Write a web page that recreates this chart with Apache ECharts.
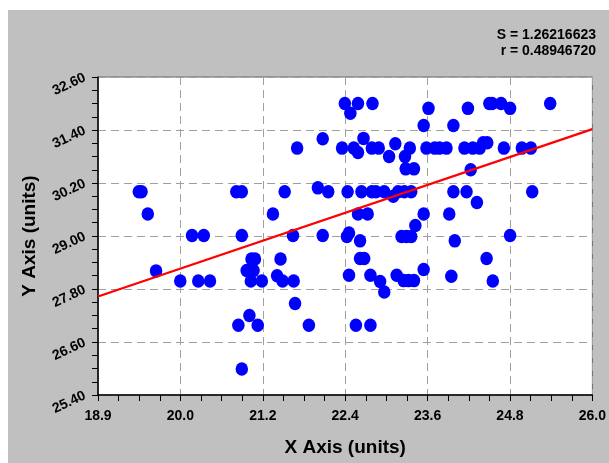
<!DOCTYPE html>
<html>
<head>
<meta charset="utf-8">
<script src="https://cdn.jsdelivr.net/npm/echarts@6/dist/echarts.min.js"></script>
<style>
  html, body { margin: 0; padding: 0; background: #fff; }
  #chart {
    width: 609px;
    height: 463px;
    background: linear-gradient(#c0c0c0, #c0c0c0) 8px 10px / 601px 453px no-repeat, #fff;
  }
</style>
</head>
<body>
<div id="chart"></div>
<script>
// data points
var xValues = [
  19.44, 19.48, 19.57, 19.69, 20.04, 20.21, 20.38, 20.30, 20.47, 20.85,
  20.93, 20.93, 21.38, 21.55, 21.73, 22.10, 22.03, 22.18, 22.10, 21.67,
  21.07, 21.12, 21.00, 21.10, 21.06, 21.22, 21.49, 21.44, 21.52, 21.68,
  21.70, 21.04, 20.88, 21.16, 21.90, 20.93,
  22.42, 22.61, 22.82, 22.50, 23.63, 24.20, 24.51, 24.55, 24.68, 24.81,
  25.39, 23.56, 23.99, 22.69,
  22.38, 22.55, 22.61, 22.81, 22.91, 23.06, 23.15, 23.29, 23.36, 23.30,
  23.42, 23.60, 23.72, 23.79, 23.89, 24.15, 24.27, 24.37, 24.42, 24.48,
  24.72, 24.98, 25.11, 24.24,
  22.46, 22.66, 22.81, 22.87, 22.99, 23.12, 23.19, 23.28, 23.38, 23.99,
  24.18, 24.33, 25.13,
  22.61, 22.75, 23.56, 23.93, 23.44,
  22.48, 22.45, 22.64, 23.24, 23.31, 23.38, 24.01, 24.81,
  22.64, 22.70, 24.47,
  22.48, 22.79, 22.93, 22.99, 23.17, 23.27, 23.34, 23.42, 23.56, 23.96,
  24.56,
  22.58, 22.79
];
var yValues = [
  30.00, 30.00, 29.50, 28.21, 27.98, 29.01, 29.01, 27.98, 27.98, 30.00,
  30.00, 29.01, 29.50, 30.00, 30.99, 31.20, 30.09, 30.00, 29.01, 29.01,
  28.48, 28.48, 28.22, 28.22, 27.98, 27.98, 28.48, 28.10, 27.98, 27.98,
  27.47, 27.20, 26.98, 26.98, 26.98, 25.99,
  32.00, 32.00, 32.00, 31.78, 31.89, 31.89, 32.00, 32.00, 32.00, 31.89,
  32.00, 31.50, 31.50, 31.21,
  30.99, 30.99, 30.89, 30.99, 30.99, 30.80, 31.09, 30.80, 30.99, 30.52,
  30.52, 30.99, 30.99, 30.99, 30.99, 30.99, 30.99, 30.99, 31.11, 31.11,
  30.99, 30.99, 30.99, 30.50,
  30.00, 30.00, 30.00, 30.00, 30.00, 29.90, 30.00, 30.00, 30.00, 30.00,
  30.00, 29.76, 30.00,
  29.50, 29.50, 29.50, 29.50, 29.24,
  29.07, 28.99, 28.89, 28.99, 28.99, 28.99, 28.89, 29.01,
  28.49, 28.49, 28.49,
  28.11, 28.11, 27.97, 27.73, 28.11, 27.99, 27.99, 27.99, 28.24, 28.09,
  27.98,
  26.98, 26.98
];
// fitted line end points
var fitX = [18.85, 26.0];
var fitY = [27.63, 31.42];

var xTickLabels = ["18.9", "20.0", "21.2", "22.4", "23.6", "24.8", "26.0"];
var yTickLabels = ["25.40", "26.60", "27.80", "29.00", "30.20", "31.40", "32.60"];
var statLines = ["S = 1.26216623", "r = 0.48946720"];

var points = xValues.map(function (x, i) {
  return [x, yValues[i]];
});
var fitLine = fitX.map(function (x, i) {
  return [x, fitY[i]];
});

var font = "Liberation Sans, Arial, sans-serif";
var gridLine = { show: true, lineStyle: { color: "#a0a0a0", width: 1, type: [8, 5] } };

var statText = statLines.map(function (t, i) {
  return {
    type: "text",
    right: 13,
    top: 28 + i * 16,
    style: { text: t, fontFamily: font, fontWeight: "bold", fontSize: 14, fill: "#000" },
  };
});

var option = {
  animation: false,
  backgroundColor: "transparent",
  grid: {
    left: 98,
    right: 14,
    top: 77,
    bottom: 68,
    show: true,
    backgroundColor: "#fff",
    borderColor: "#666",
    borderWidth: 1,
  },
  graphic: statText,
  xAxis: {
    type: "value",
    min: 18.85,
    max: 26.0,
    interval: (26.0 - 18.85) / 6,
    name: "X Axis (units)",
    nameLocation: "middle",
    nameGap: 43,
    nameTextStyle: { fontFamily: font, fontWeight: "bold", fontSize: 19, color: "#000" },
    axisLine: { lineStyle: { color: "#000", width: 1.5 } },
    axisTick: { show: true, inside: false, length: 6, lineStyle: { color: "#000" } },
    minorTick: { show: true, splitNumber: 4, length: 6, lineStyle: { color: "#000" } },
    splitLine: gridLine,
    axisLabel: {
      margin: 14,
      fontFamily: font,
      fontWeight: "bold",
      fontSize: 14,
      color: "#000",
      formatter: function (v, i) {
        return xTickLabels[i];
      },
    },
  },
  yAxis: {
    type: "value",
    min: 25.4,
    max: 32.6,
    interval: 1.2,
    name: "Y Axis (units)",
    nameLocation: "middle",
    nameGap: 54,
    nameTextStyle: { fontFamily: font, fontWeight: "bold", fontSize: 19, color: "#000" },
    axisLine: { show: true, lineStyle: { color: "#000", width: 1.5 } },
    axisTick: { show: true, inside: false, length: 6, lineStyle: { color: "#000" } },
    minorTick: { show: true, splitNumber: 4, length: 6, lineStyle: { color: "#000" } },
    splitLine: gridLine,
    axisLabel: {
      margin: 13,
      rotate: 25,
      fontFamily: font,
      fontWeight: "bold",
      fontSize: 14,
      color: "#000",
      formatter: function (v, i) {
        return yTickLabels[i];
      },
    },
  },
  series: [
    {
      type: "scatter",
      data: points,
      symbol: "circle",
      symbolSize: [12.5, 13.5],
      itemStyle: { color: "#0000ff", opacity: 1 },
      z: 2,
    },
    {
      type: "line",
      data: fitLine,
      symbol: "none",
      lineStyle: { color: "#ff0000", width: 2.2 },
      z: 3,
    },
  ],
};

var myChart = echarts.init(document.getElementById("chart"));
myChart.setOption(option);
</script>
</body>
</html>
